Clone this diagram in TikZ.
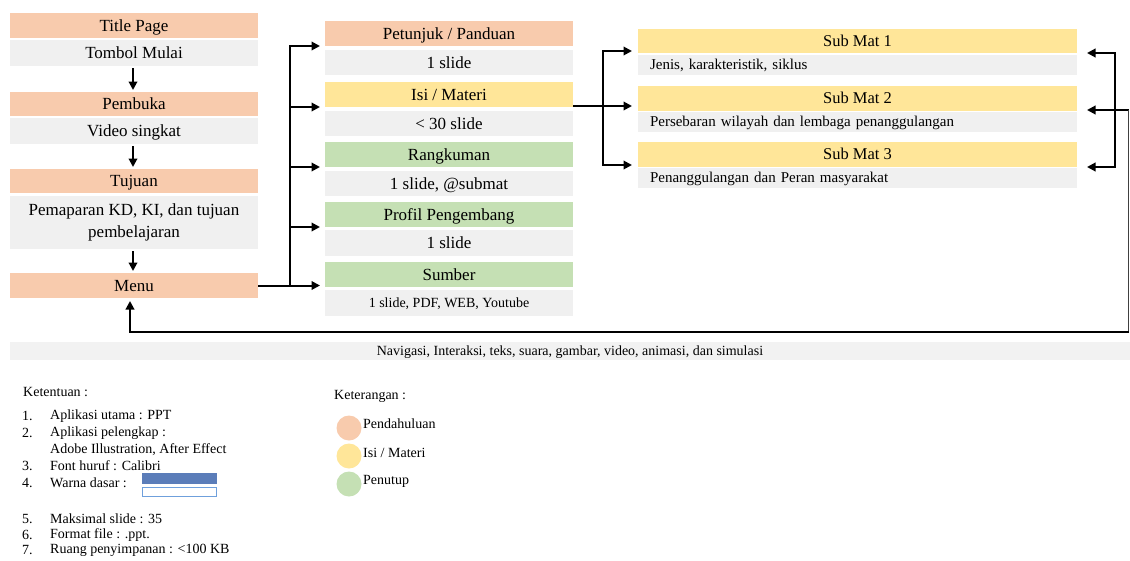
\documentclass[tikz,border=0pt]{standalone}
\usepackage{fontspec}
\setmainfont{Liberation Serif}
\usetikzlibrary{arrows.meta}
\definecolor{salm}{HTML}{F8CBAD}
\definecolor{yell}{HTML}{FFE699}
\definecolor{gren}{HTML}{C5E0B4}
\definecolor{lgray}{HTML}{F0F0F0}
\definecolor{barg}{HTML}{F2F2F2}
\definecolor{wblue}{HTML}{5B7DB9}
\definecolor{wline}{HTML}{6FA0DC}
\newcommand\mainsz{\fontsize{17}{22}\selectfont}
\newcommand\hsz{\fontsize{16.5}{20}\selectfont}
\newcommand\smsz{\fontsize{14}{17}\selectfont}
\newcommand\subsz{\fontsize{15}{18}\selectfont}
\newcommand\mybox[7]{\node[#6, minimum width={(#4)-(#2)}, minimum height={(#5)-(#3)}] (#1) at ({((#2)+(#4))/2},{((#3)+(#5))/2}) {#7};}
\begin{document}
\begin{tikzpicture}[x=1pt,y=-1pt,
  box/.style={inner sep=0pt, outer sep=0pt, draw=none, font=\mainsz},
  big/.style={text height=13.2pt, text depth=2pt},
  small/.style={font=\smsz, text height=10.7pt, text depth=1.5pt},
  hs/.style={box, big, fill=salm},
  hy/.style={box, big, fill=yell},
  hg/.style={box, big, fill=gren},
  gb/.style={box, big, fill=lgray},
  subh/.style={box, fill=yell, font=\hsz, text height=12.4pt, text depth=1.5pt},
  sg/.style={box, fill=lgray, font=\subsz, text height=11.4pt, text depth=1.5pt, align=left, text width=415pt},
  ln/.style={line width=2pt},
  arr/.style={line width=2pt, -{Triangle[length=8.5pt,width=8.5pt]}},
  txt/.style={anchor=west, font=\smsz, inner sep=0pt}]
\useasboundingbox (0,0) rectangle (1130,560);

% left column
\mybox{title}{10}{13}{258}{38}{hs}{Title Page}
\mybox{tombol}{10}{40}{258}{66}{gb}{Tombol Mulai}
\mybox{pembuka}{10}{92}{258}{116}{hs}{Pembuka}
\mybox{video}{10}{118}{258}{144}{gb}{Video singkat}
\mybox{tujuan}{10}{169}{258}{193}{hs}{Tujuan}
\mybox{paparan}{10}{195}{258}{248}{box,fill=lgray,align=center,yshift=-1pt}{Pemaparan KD, KI, dan tujuan\\pembelajaran}
\mybox{menu}{10}{273}{258}{298}{hs}{Menu}

% middle column
\mybox{petunjuk}{325}{21}{573}{46}{hs}{Petunjuk / Panduan}
\mybox{petunjukg}{325}{50}{573}{75}{gb}{1 slide}
\mybox{isi}{325}{82}{573}{107}{hy}{Isi / Materi}
\mybox{isig}{325}{111}{573}{136}{gb}{< 30 slide}
\mybox{rangkuman}{325}{142}{573}{167}{hg}{Rangkuman}
\mybox{rangkumang}{325}{171}{573}{196}{gb}{1 slide, @submat}
\mybox{profil}{325}{202}{573}{227}{hg}{Profil Pengembang}
\mybox{profilg}{325}{230}{573}{256}{gb}{1 slide}
\mybox{sumber}{325}{262}{573}{287}{hg}{Sumber}
\mybox{sumberg}{325}{290}{573}{316}{box,fill=lgray,small}{1 slide, PDF, WEB, Youtube}

% sub materi
\mybox{sma}{638}{29}{1077}{53}{subh}{Sub Mat 1}
\mybox{smag}{638}{55}{1077}{75}{sg}{Jenis, karakteristik, siklus}
\mybox{smb}{638}{86}{1077}{111}{subh}{Sub Mat 2}
\mybox{smbg}{638}{112}{1077}{132}{sg}{Persebaran wilayah dan lembaga penanggulangan}
\mybox{smc}{638}{142}{1077}{167}{subh}{Sub Mat 3}
\mybox{smcg}{638}{168}{1077}{188}{sg}{Penanggulangan dan Peran masyarakat}

% bottom bar
\mybox{bar}{10}{342}{1130}{360}{box,fill=barg,small}{Navigasi, Interaksi, teks, suara, gambar, video, animasi, dan simulasi}

% left column arrows
\draw[arr, shorten <=2pt, shorten >=2pt] ([xshift=-1pt]tombol.south) -- ([xshift=-1pt]pembuka.north);
\draw[arr, shorten <=2pt, shorten >=2pt] ([xshift=-1pt]video.south) -- ([xshift=-1pt]tujuan.north);
\draw[arr, shorten <=2pt, shorten >=2pt] ([xshift=-1pt]paparan.south) -- ([xshift=-1pt]menu.north);

% menu bracket
\coordinate (mv) at (290,285.5);
\draw[ln] (menu.east) -- (mv);
\foreach \n in {petunjuk,isi,rangkuman,profil}
  \draw[arr] (mv) |- ([xshift=-5pt]\n.south west);
\draw[arr] (mv) -- ([xshift=-5pt]mv -| sumber.west);

% isi bracket
\coordinate (iv) at (603,106);
\draw[arr] ([yshift=1pt]isi.south east) -- ([xshift=-6pt]iv -| smb.west);
\draw[arr] (iv) |- ([xshift=-6pt,yshift=2pt]sma.south west);
\draw[arr] (iv) |- ([xshift=-6pt,yshift=2pt]smc.south west);

% right bracket and return
\coordinate (rb) at (1115,110);
\draw[arr] (rb) |- ([xshift=10pt]sma.south east);
\draw[arr] (rb) |- ([xshift=10pt]smc.south east);
\coordinate (r0) at (1129,110);
\coordinate (r1) at (1128,332);
\coordinate (r2) at (130,332);
\draw[arr] (r0) -- ([xshift=10pt]r0 -| smb.east);
\draw[line width=0.9pt, black!75] (1128,110) -- (r1);
\draw[arr] ([xshift=1pt]r1) -- (r2) -- ([yshift=-3pt]r2 |- menu.south);

% Ketentuan
\node[txt] (ket) at (23,392) {Ketentuan :};
\node[txt] (n1) at (22,416) {1.};
\node[txt] (t1) at (50,416) {Aplikasi utama : PPT};
\node[txt] (n2) at (22,433) {2.};
\node[txt] (t2) at (50,433) {Aplikasi pelengkap :};
\node[txt] (t2b) at (50,450) {Adobe Illustration, After Effect};
\node[txt] (n3) at (22,466) {3.};
\node[txt] (t3) at (50,466) {Font huruf : Calibri};
\node[txt] (n4) at (22,483) {4.};
\node[txt] (t4) at (50,483) {Warna dasar :};
\fill[wblue] (142,473) rectangle (217,484);
\draw[wline, line width=1.2pt] (142.6,487.6) rectangle (216.4,496.4);
\node[txt] (n5) at (22,519) {5.};
\node[txt] (t5) at (50,519) {Maksimal slide : 35};
\node[txt] (n6) at (22,535) {6.};
\node[txt] (t6) at (50,535) {Format file : .ppt.};
\node[txt] (n7) at (22,550) {7.};
\node[txt] (t7) at (50,550) {Ruang penyimpanan : <100 KB};

% Keterangan
\node[txt] (kr) at (334,396) {Keterangan :};
\node[circle, fill=salm, minimum size=25pt, inner sep=0pt] (c1) at (349,428) {};
\node[circle, fill=yell, minimum size=25pt, inner sep=0pt] (c2) at (349,456) {};
\node[circle, fill=gren, minimum size=25pt, inner sep=0pt] (c3) at (349,484) {};
\node[txt] (l1) at (363,424) {Pendahuluan};
\node[txt] (l2) at (363,453) {Isi / Materi};
\node[txt] (l3) at (363,481) {Penutup};
\end{tikzpicture}
\end{document}
